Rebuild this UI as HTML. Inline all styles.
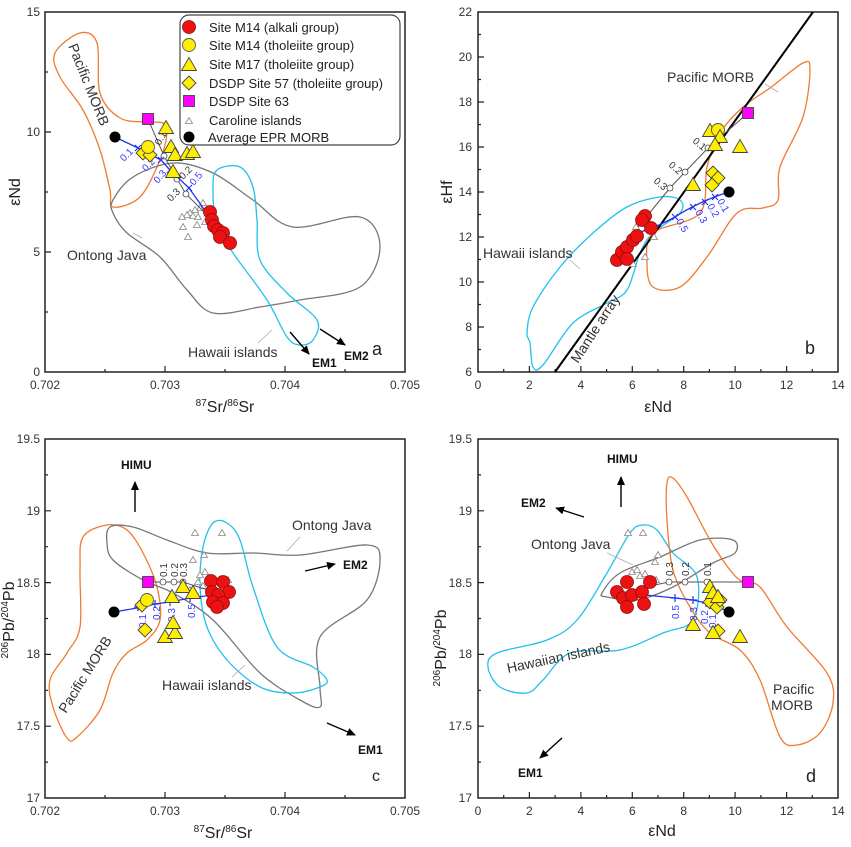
<!DOCTYPE html>
<html><head><meta charset="utf-8"><style>
html,body{margin:0;padding:0;background:#fff;}
svg{display:block;font-family:"Liberation Sans",Arial,sans-serif;}
.tk{font-size:12px;fill:#333;}
.ax{font-size:16px;fill:#222;}
.an{font-size:14px;fill:#333;}
.bd{font-size:12px;font-weight:bold;fill:#111;}
.bl{font-size:10px;fill:#3333ff;}
.gl{font-size:10px;fill:#333;}
.lg{font-size:13px;fill:#222;}
</style></head><body>
<svg width="851" height="847" viewBox="0 0 851 847" xmlns="http://www.w3.org/2000/svg">
<defs>
<circle id="rc" r="6.5" fill="#ee1111" stroke="#8a1010" stroke-width="0.8"/>
<circle id="yc" r="6.5" fill="#ffee00" stroke="#555" stroke-width="0.9"/>
<path id="yt" d="M0,-7.5 L7.5,5.5 L-7.5,5.5Z" fill="#ffee00" stroke="#444" stroke-width="0.9"/>
<path id="yd" d="M0,-7 L7,0 L0,7 L-7,0Z" fill="#ffee00" stroke="#444" stroke-width="0.9"/>
<rect id="ms" x="-5.5" y="-5.5" width="11" height="11" fill="#ff00ff" stroke="#444" stroke-width="0.9"/>
<path id="gt" d="M0,-3.5 L3.5,2.5 L-3.5,2.5Z" fill="#fff" stroke="#888" stroke-width="0.8"/>
<circle id="bc" r="5.5" fill="#000"/>
<circle id="oc" r="3" fill="#fff" stroke="#444" stroke-width="0.8"/>
<path id="xm" d="M-3,-3L3,3M-3,3L3,-3" stroke="#2233ee" stroke-width="1.2"/>
<path id="pm" d="M-4,0H4M0,-4V4" stroke="#2233ee" stroke-width="1.2"/>
<marker id="ar" markerWidth="10" markerHeight="10" refX="8" refY="4" orient="auto" markerUnits="userSpaceOnUse"><path d="M0,0 L9,4 L0,8 Z" fill="#000"/></marker>
</defs>

<!-- ================= PANEL A ================= -->
<rect x="45" y="12" width="360" height="360" fill="none" stroke="#222" stroke-width="1.5"/>
<path d="M45,312h3M45,252h6M45,192h3M45,132h6M45,72h3M105,372v-3M165,372v-6M225,372v-3M285,372v-6M345,372v-3" stroke="#222" stroke-width="1.2"/>
<g class="tk" text-anchor="end"><text x="40" y="16">15</text><text x="40" y="136">10</text><text x="40" y="256">5</text><text x="40" y="376">0</text></g>
<g class="tk" text-anchor="middle"><text x="45" y="389">0.702</text><text x="165" y="389">0.703</text><text x="285" y="389">0.704</text><text x="405" y="389">0.705</text></g>
<text class="ax" x="225" y="412" text-anchor="middle"><tspan font-size="10" dy="-6">87</tspan><tspan dy="6">Sr/</tspan><tspan font-size="10" dy="-6">86</tspan><tspan dy="6">Sr</tspan></text>
<text class="ax" transform="translate(20,192) rotate(-90)" text-anchor="middle">εNd</text>

<polygon class="sm" fill="none" stroke="#f07a30" stroke-width="1.3" points="55,53 80,33 97,43 100,93 120,118 148,122 163,123 167,133 160,160 140,197 113,207 110,190 100,150 83,110 60,77"/>
<polygon class="sm" fill="none" stroke="#777" stroke-width="1.3" points="113,200 133,177 173,163 213,173 253,200 293,227 360,217 380,247 360,287 300,300 260,307 213,313 187,290 160,257 127,233 113,213"/>
<polygon class="sm" fill="none" stroke="#22c0ee" stroke-width="1.3" points="217,170 240,167 253,187 257,220 260,260 287,293 317,320 313,340 300,345 287,337 267,300 233,253 217,227 213,190"/>

<g><use href="#gt" x="203" y="203"/><use href="#gt" x="200" y="208"/><use href="#gt" x="190" y="213"/><use href="#gt" x="187" y="215"/><use href="#gt" x="193" y="216"/><use href="#gt" x="198" y="217"/><use href="#gt" x="183" y="227"/><use href="#gt" x="188" y="237"/><use href="#gt" x="197" y="225"/><use href="#gt" x="205" y="222"/><use href="#gt" x="182" y="217"/><use href="#gt" x="195" y="210"/></g>
<polyline points="148,119 164,156 177,179 186,194 206,214" fill="none" stroke="#555" stroke-width="1"/>
<use href="#oc" x="164" y="156"/><use href="#oc" x="177" y="179"/><use href="#oc" x="186" y="194"/>
<polyline points="115,137 138,148 161,160 170,170 189,188 206,212" fill="none" stroke="#2233ee" stroke-width="1.3"/>
<use href="#xm" x="138" y="148"/><use href="#xm" x="161" y="160"/><use href="#xm" x="170" y="170"/><use href="#xm" x="189" y="188"/>
<g class="bl"><text transform="translate(124,162) rotate(-45)">0.1</text><text transform="translate(146,172) rotate(-45)">0.2</text><text transform="translate(158,184) rotate(-50)">0.3</text><text transform="translate(194,186) rotate(-50)">0.5</text></g>
<g class="gl"><text transform="translate(160,146) rotate(-60)">0.1</text><text transform="translate(183,180) rotate(-45)">0.2</text><text transform="translate(171,202) rotate(-45)">0.3</text></g>
<use href="#bc" x="115" y="137"/><use href="#ms" x="148" y="119"/>
<use href="#yd" x="143" y="153"/><use href="#yd" x="150" y="155"/><use href="#yc" x="148" y="147"/>
<use href="#yt" x="166" y="128"/><use href="#yt" x="171" y="147"/><use href="#yt" x="175" y="155"/><use href="#yt" x="187" y="154"/><use href="#yt" x="193" y="152"/><use href="#yt" x="173" y="172"/>
<use href="#rc" x="210" y="212"/><use href="#rc" x="212" y="220"/><use href="#rc" x="214" y="226"/><use href="#rc" x="218" y="230"/><use href="#rc" x="223" y="233"/><use href="#rc" x="220" y="237"/><use href="#rc" x="230" y="243"/>

<rect x="180" y="15" width="220" height="130" rx="9" fill="#fff" stroke="#444" stroke-width="1.2"/>
<use href="#rc" x="189" y="27"/><use href="#yc" x="189" y="45"/><use href="#yt" x="189" y="65"/><use href="#yd" x="189" y="83"/><use href="#ms" x="189" y="101"/><use href="#gt" x="189" y="121"/><use href="#bc" x="189" y="137"/>
<g class="lg"><text x="209" y="32">Site M14 (alkali group)</text><text x="209" y="50">Site M14 (tholeiite group)</text><text x="209" y="69">Site M17  (tholeiite group)</text><text x="209" y="88">DSDP Site 57 (tholeiite group)</text><text x="209" y="106">DSDP Site 63</text><text x="209" y="125">Caroline islands</text><text x="208" y="142">Average EPR MORB</text></g>

<text class="an" transform="translate(68,46) rotate(68)">Pacific MORB</text>
<text class="an" x="67" y="260">Ontong Java</text>
<path d="M133,233 L142,238" stroke="#aaa" stroke-width="0.8"/>
<text class="an" x="188" y="357">Hawaii islands</text>
<path d="M258,343 L272,330" stroke="#aaa" stroke-width="0.8"/>
<line x1="290" y1="332" x2="309" y2="354" stroke="#000" stroke-width="1.4" marker-end="url(#ar)"/>
<line x1="320" y1="329" x2="345" y2="345" stroke="#000" stroke-width="1.4" marker-end="url(#ar)"/>
<text class="bd" x="312" y="367">EM1</text><text class="bd" x="344" y="360">EM2</text>
<text x="372" y="355" font-size="18" fill="#222">a</text>

<!-- ================= PANEL B ================= -->
<rect x="478" y="12" width="360" height="360" fill="none" stroke="#222" stroke-width="1.5"/>
<path d="M503.7,372v-3M529.4,372v-6M555.1,372v-3M580.9,372v-6M606.6,372v-3M632.3,372v-6M658,372v-3M683.7,372v-6M709.4,372v-3M735.1,372v-6M760.9,372v-3M786.6,372v-6M812.3,372v-3M478,349.5h3M478,327h6M478,304.5h3M478,282h6M478,259.5h3M478,237h6M478,214.5h3M478,192h6M478,169.5h3M478,147h6M478,124.5h3M478,102h6M478,79.5h3M478,57h6M478,34.5h3" stroke="#222" stroke-width="1.2"/>
<g class="tk" text-anchor="end"><text x="472" y="16">22</text><text x="472" y="61">20</text><text x="472" y="106">18</text><text x="472" y="151">16</text><text x="472" y="196">14</text><text x="472" y="241">12</text><text x="472" y="286">10</text><text x="472" y="331">8</text><text x="472" y="376">6</text></g>
<g class="tk" text-anchor="middle"><text x="478" y="389">0</text><text x="529.4" y="389">2</text><text x="580.9" y="389">4</text><text x="632.3" y="389">6</text><text x="683.7" y="389">8</text><text x="735.1" y="389">10</text><text x="786.6" y="389">12</text><text x="838" y="389">14</text></g>
<text class="ax" x="658" y="412" text-anchor="middle">εNd</text>
<text class="ax" transform="translate(452,192) rotate(-90)" text-anchor="middle">εHf</text>

<polygon class="sm" fill="none" stroke="#22c0ee" stroke-width="1.3" points="530,343 533,367 543,365 573,323 607,303 627,290 640,253 653,233 680,213 680,200 660,197 627,207 593,233 560,267 533,307 527,333"/>
<polygon class="sm" fill="none" stroke="#f07a30" stroke-width="1.3" points="770,88 803,63 810,70 803,117 780,167 778,200 763,208 737,213 707,257 680,287 653,287 647,263 653,233 700,213 707,167 720,133 743,107"/>
<line x1="555" y1="372" x2="813" y2="12" stroke="#000" stroke-width="2"/>
<text class="an" transform="translate(578,364) rotate(-57)">Mantle array</text>
<text class="an" x="667" y="82">Pacific MORB</text>
<path d="M765,84 L778,92" stroke="#aaa" stroke-width="0.8"/>
<text class="an" x="483" y="258">Hawaii islands</text>
<path d="M570,260 L580,269" stroke="#aaa" stroke-width="0.8"/>
<text x="805" y="354" font-size="18" fill="#222">b</text>
<g><use href="#gt" x="636" y="227"/><use href="#gt" x="633" y="264"/><use href="#gt" x="645" y="257"/><use href="#gt" x="654" y="237"/></g>
<polyline points="748,113 708,148 685,172 670,188 638,227" fill="none" stroke="#555" stroke-width="1"/>
<use href="#oc" x="708" y="148"/><use href="#oc" x="685" y="172"/><use href="#oc" x="670" y="188"/>
<g class="gl"><text transform="translate(692,142) rotate(40)">0.1</text><text transform="translate(668,166) rotate(40)">0.2</text><text transform="translate(653,182) rotate(40)">0.3</text></g>
<path d="M729,192 C712,197 690,207 675,217 C660,225 648,230 640,232" fill="none" stroke="#2233ee" stroke-width="1.3"/>
<use href="#xm" x="715" y="197"/><use href="#xm" x="705" y="202"/><use href="#xm" x="693" y="207"/><use href="#xm" x="675" y="217"/>
<g class="bl"><text transform="translate(717,201) rotate(60)">0.1</text><text transform="translate(707,206) rotate(60)">0.2</text><text transform="translate(695,212) rotate(60)">0.3</text><text transform="translate(676,221) rotate(60)">0.5</text></g>
<use href="#bc" x="729" y="192"/><use href="#ms" x="748" y="113"/>
<use href="#yt" x="710" y="131"/><use href="#yc" x="718" y="130"/><use href="#yt" x="720" y="137"/><use href="#yt" x="715" y="145"/><use href="#yt" x="740" y="147"/><use href="#yt" x="693" y="185"/>
<use href="#yd" x="713" y="173"/><use href="#yd" x="718" y="178"/><use href="#yd" x="712" y="185"/>
<use href="#rc" x="617" y="260"/><use href="#rc" x="622" y="252"/><use href="#rc" x="627" y="247"/><use href="#rc" x="633" y="240"/><use href="#rc" x="637" y="236"/><use href="#rc" x="645" y="216"/><use href="#rc" x="642" y="220"/><use href="#rc" x="651" y="228"/><use href="#rc" x="627" y="259"/>

<!-- ================= PANEL C ================= -->
<rect x="45" y="439" width="360" height="359" fill="none" stroke="#222" stroke-width="1.5"/>
<path d="M45,474.9h3M45,510.8h6M45,546.7h3M45,582.6h6M45,618.5h3M45,654.4h6M45,690.3h3M45,726.2h6M45,762.1h3M105,798v-3M165,798v-6M225,798v-3M285,798v-6M345,798v-3" stroke="#222" stroke-width="1.2"/>
<g class="tk" text-anchor="end"><text x="40" y="443">19.5</text><text x="40" y="515">19</text><text x="40" y="587">18.5</text><text x="40" y="658">18</text><text x="40" y="730">17.5</text><text x="40" y="802">17</text></g>
<g class="tk" text-anchor="middle"><text x="45" y="815">0.702</text><text x="165" y="815">0.703</text><text x="285" y="815">0.704</text><text x="405" y="815">0.705</text></g>
<text class="ax" x="223" y="838" text-anchor="middle"><tspan font-size="10" dy="-6">87</tspan><tspan dy="6">Sr/</tspan><tspan font-size="10" dy="-6">86</tspan><tspan dy="6">Sr</tspan></text>
<text class="ax" transform="translate(14,620) rotate(-90)" text-anchor="middle"><tspan font-size="10" dy="-6">206</tspan><tspan dy="6">Pb/</tspan><tspan font-size="10" dy="-6">204</tspan><tspan dy="6">Pb</tspan></text>

<polygon class="sm" fill="none" stroke="#f07a30" stroke-width="1.3" points="83,537 107,525 127,530 143,553 157,587 160,620 147,640 127,653 113,673 100,710 77,737 67,738 53,707 50,680 67,653 80,627 80,570"/>
<polygon class="sm" fill="none" stroke="#777" stroke-width="1.3" points="110,527 133,527 167,540 207,553 253,553 300,555 367,545 380,560 367,600 320,637 320,687 320,707 300,700 260,673 213,620 173,593 143,580 113,560 107,543"/>
<polygon class="sm" fill="none" stroke="#22c0ee" stroke-width="1.3" points="213,523 227,523 240,540 253,587 277,647 313,667 327,680 320,687 293,693 260,687 227,660 207,627 200,587 203,547"/>
<g><use href="#gt" x="195" y="533"/><use href="#gt" x="222" y="533"/><use href="#gt" x="193" y="560"/><use href="#gt" x="204" y="555"/><use href="#gt" x="200" y="575"/><use href="#gt" x="205" y="572"/><use href="#gt" x="208" y="578"/><use href="#gt" x="198" y="582"/><use href="#gt" x="203" y="586"/><use href="#gt" x="190" y="590"/><use href="#gt" x="228" y="580"/></g>
<polyline points="148,582 163,582 174,582 183,582 214,592" fill="none" stroke="#555" stroke-width="1"/>
<use href="#oc" x="163" y="582"/><use href="#oc" x="174" y="582"/><use href="#oc" x="183" y="582"/>
<g class="gl"><text transform="translate(167,577) rotate(-90)">0.1</text><text transform="translate(178,577) rotate(-90)">0.2</text><text transform="translate(187,577) rotate(-90)">0.3</text></g>
<polyline points="114,612 143,607 155,604 170,602 190,598 213,595" fill="none" stroke="#2233ee" stroke-width="1.3"/>
<use href="#pm" x="138" y="607"/><use href="#pm" x="155" y="604"/><use href="#pm" x="170" y="602"/><use href="#pm" x="190" y="598"/>
<g class="bl"><text transform="translate(146,628) rotate(-90)">0.1</text><text transform="translate(160,620) rotate(-90)">0.2</text><text transform="translate(175,622) rotate(-90)">0.3</text><text transform="translate(195,618) rotate(-90)">0.5</text></g>
<use href="#bc" x="114" y="612"/><use href="#ms" x="148" y="582"/>
<use href="#yd" x="142" y="605"/><use href="#yd" x="145" y="630"/><use href="#yc" x="147" y="600"/>
<use href="#yt" x="165" y="637"/><use href="#yt" x="175" y="633"/><use href="#yt" x="173" y="623"/><use href="#yt" x="172" y="597"/><use href="#yt" x="183" y="587"/><use href="#yt" x="193" y="593"/>
<use href="#rc" x="211" y="581"/><use href="#rc" x="223" y="582"/><use href="#rc" x="229" y="592"/><use href="#rc" x="212" y="592"/><use href="#rc" x="218" y="595"/><use href="#rc" x="213" y="602"/><use href="#rc" x="223" y="603"/><use href="#rc" x="217" y="607"/>

<text class="bd" x="121" y="469">HIMU</text>
<line x1="135" y1="512" x2="135" y2="482" stroke="#000" stroke-width="1.4" marker-end="url(#ar)"/>
<text class="an" x="292" y="530">Ontong Java</text>
<path d="M287,551 L300,537" stroke="#aaa" stroke-width="0.8"/>
<line x1="305" y1="571" x2="335" y2="564" stroke="#000" stroke-width="1.4" marker-end="url(#ar)"/>
<text class="bd" x="343" y="569">EM2</text>
<text class="an" x="162" y="690">Hawaii islands</text>
<path d="M232,677 L245,665" stroke="#aaa" stroke-width="0.8"/>
<text class="an" transform="translate(66,714) rotate(-58)">Pacific MORB</text>
<line x1="327" y1="723" x2="355" y2="735" stroke="#000" stroke-width="1.4" marker-end="url(#ar)"/>
<text class="bd" x="358" y="754">EM1</text>
<text x="372" y="781" font-size="16" fill="#222">c</text>

<!-- ================= PANEL D ================= -->
<rect x="478" y="439" width="360" height="359" fill="none" stroke="#222" stroke-width="1.5"/>
<path d="M503.7,798v-3M529.4,798v-6M555.1,798v-3M580.9,798v-6M606.6,798v-3M632.3,798v-6M658,798v-3M683.7,798v-6M709.4,798v-3M735.1,798v-6M760.9,798v-3M786.6,798v-6M812.3,798v-3M478,474.9h3M478,510.8h6M478,546.7h3M478,582.6h6M478,618.5h3M478,654.4h6M478,690.3h3M478,726.2h6M478,762.1h3" stroke="#222" stroke-width="1.2"/>
<g class="tk" text-anchor="end"><text x="472" y="443">19.5</text><text x="472" y="515">19</text><text x="472" y="587">18.5</text><text x="472" y="658">18</text><text x="472" y="730">17.5</text><text x="472" y="802">17</text></g>
<g class="tk" text-anchor="middle"><text x="478" y="815">0</text><text x="529.4" y="815">2</text><text x="580.9" y="815">4</text><text x="632.3" y="815">6</text><text x="683.7" y="815">8</text><text x="735.1" y="815">10</text><text x="786.6" y="815">12</text><text x="838" y="815">14</text></g>
<text class="ax" x="662" y="836" text-anchor="middle">εNd</text>
<text class="ax" transform="translate(446,648) rotate(-90)" text-anchor="middle"><tspan font-size="10" dy="-6">206</tspan><tspan dy="6">Pb/</tspan><tspan font-size="10" dy="-6">204</tspan><tspan dy="6">Pb</tspan></text>

<polygon class="sm" fill="none" stroke="#22c0ee" stroke-width="1.3" points="488,667 497,653 547,640 577,620 607,573 630,533 643,525 657,530 673,553 697,577 693,620 663,633 620,650 570,653 543,680 527,693 500,687"/>
<polygon class="sm" fill="none" stroke="#777" stroke-width="1.3" points="602,593 620,573 660,557 700,540 733,540 735,553 713,563 673,587 637,600 607,597"/>
<polygon class="sm" fill="none" stroke="#f07a30" stroke-width="1.3" points="667,483 673,478 687,497 710,540 730,570 743,582 760,587 787,627 827,673 833,703 820,733 797,745 780,737 760,680 740,650 710,633 690,607 673,570 667,520"/>
<g><use href="#gt" x="628" y="533"/><use href="#gt" x="643" y="533"/><use href="#gt" x="658" y="555"/><use href="#gt" x="655" y="562"/><use href="#gt" x="632" y="572"/><use href="#gt" x="637" y="570"/><use href="#gt" x="640" y="576"/><use href="#gt" x="645" y="574"/><use href="#gt" x="656" y="580"/></g>
<polyline points="748,582 707,582 685,582 669,582 650,586" fill="none" stroke="#555" stroke-width="1"/>
<use href="#oc" x="707" y="582"/><use href="#oc" x="685" y="582"/><use href="#oc" x="669" y="582"/>
<g class="gl"><text transform="translate(711,576) rotate(-90)">0.1</text><text transform="translate(689,576) rotate(-90)">0.2</text><text transform="translate(673,576) rotate(-90)">0.3</text></g>
<polyline points="729,612 714,605 706,603 693,600 675,598 645,595" fill="none" stroke="#2233ee" stroke-width="1.3"/>
<use href="#pm" x="714" y="605"/><use href="#pm" x="706" y="603"/><use href="#pm" x="693" y="600"/><use href="#pm" x="675" y="598"/>
<g class="bl"><text transform="translate(716,628) rotate(-90)">0.1</text><text transform="translate(708,624) rotate(-90)">0.2</text><text transform="translate(697,621) rotate(-90)">0.3</text><text transform="translate(679,619) rotate(-90)">0.5</text></g>
<use href="#bc" x="729" y="612"/><use href="#ms" x="748" y="582"/>
<use href="#yd" x="710" y="602"/><use href="#yd" x="717" y="607"/><use href="#yd" x="718" y="631"/><use href="#yd" x="720" y="600"/>
<use href="#yt" x="710" y="587"/><use href="#yt" x="713" y="593"/><use href="#yt" x="718" y="597"/><use href="#yt" x="693" y="625"/><use href="#yt" x="713" y="633"/><use href="#yt" x="740" y="637"/>
<use href="#rc" x="617" y="592"/><use href="#rc" x="627" y="582"/><use href="#rc" x="623" y="598"/><use href="#rc" x="632" y="595"/><use href="#rc" x="627" y="607"/><use href="#rc" x="642" y="592"/><use href="#rc" x="650" y="582"/><use href="#rc" x="644" y="604"/>

<text class="bd" x="607" y="463">HIMU</text>
<line x1="621" y1="507" x2="621" y2="477" stroke="#000" stroke-width="1.4" marker-end="url(#ar)"/>
<text class="bd" x="521" y="507">EM2</text>
<line x1="584" y1="517" x2="556" y2="508" stroke="#000" stroke-width="1.4" marker-end="url(#ar)"/>
<text class="an" x="531" y="549">Ontong Java</text>
<path d="M633,565 L607,553" stroke="#aaa" stroke-width="0.8"/>
<text class="an" transform="translate(508,673) rotate(-12)">Hawaiian islands</text>
<text class="an" x="773" y="694">Pacific</text><text class="an" x="771" y="710">MORB</text>
<line x1="562" y1="738" x2="540" y2="758" stroke="#000" stroke-width="1.4" marker-end="url(#ar)"/>
<text class="bd" x="518" y="777">EM1</text>
<text x="806" y="782" font-size="18" fill="#222">d</text>
</svg>
<script>
(function(){
  var ps=document.querySelectorAll('polygon.sm');
  for(var k=0;k<ps.length;k++){
    var p=ps[k];var a=p.getAttribute('points').trim().split(/\s+/).map(function(s){return s.split(',').map(Number);});
    var n=a.length,d='M'+a[0][0]+','+a[0][1];
    for(var i=0;i<n;i++){
      var p0=a[(i-1+n)%n],p1=a[i],p2=a[(i+1)%n],p3=a[(i+2)%n];
      var c1x=p1[0]+(p2[0]-p0[0])/6,c1y=p1[1]+(p2[1]-p0[1])/6,c2x=p2[0]-(p3[0]-p1[0])/6,c2y=p2[1]-(p3[1]-p1[1])/6;
      d+='C'+c1x.toFixed(1)+','+c1y.toFixed(1)+' '+c2x.toFixed(1)+','+c2y.toFixed(1)+' '+p2[0]+','+p2[1];
    }
    var e=document.createElementNS('http://www.w3.org/2000/svg','path');
    e.setAttribute('d',d+'Z');
    ['fill','stroke','stroke-width'].forEach(function(t){e.setAttribute(t,p.getAttribute(t));});
    p.parentNode.replaceChild(e,p);
  }
})();
</script>
</body></html>
